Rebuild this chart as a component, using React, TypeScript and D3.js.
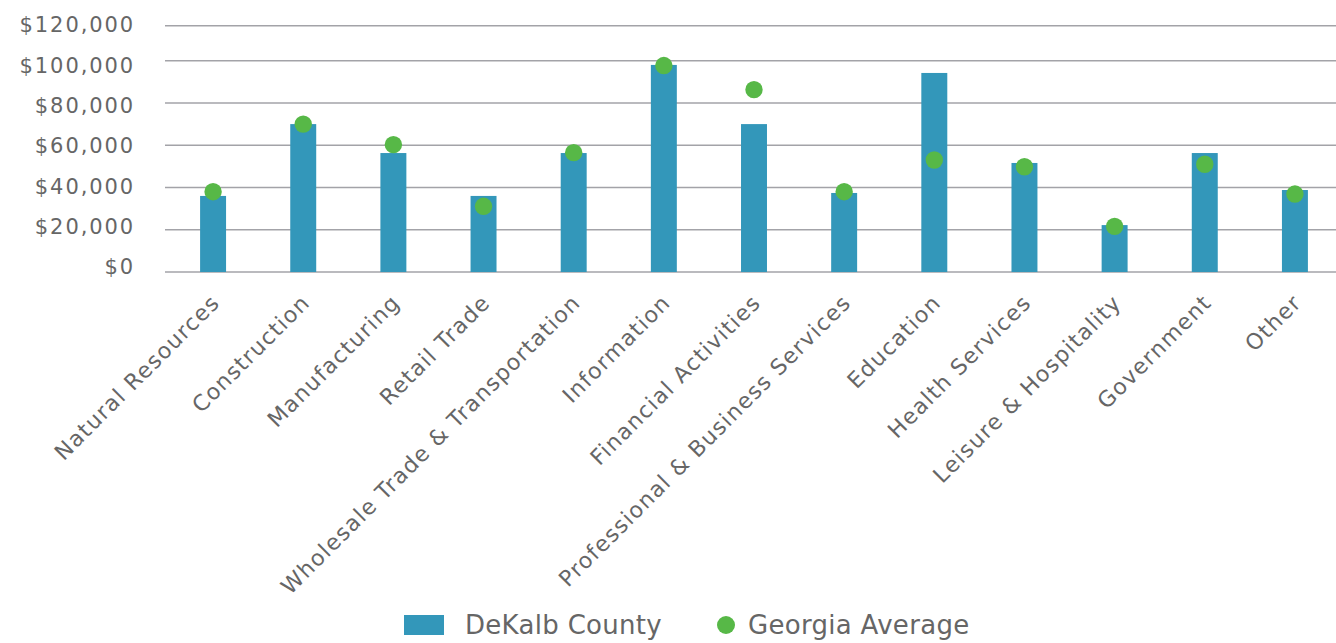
import React from "react";
import * as d3 from "d3";

const categories = [
  "Natural Resources",
  "Construction",
  "Manufacturing",
  "Retail Trade",
  "Wholesale Trade & Transportation",
  "Information",
  "Financial Activities",
  "Professional & Business Services",
  "Education",
  "Health Services",
  "Leisure & Hospitality",
  "Government",
  "Other",
];
const dekalbCounty = [36000, 70000, 56300, 36000, 56300, 98000, 70000, 37400, 94200, 51600, 22200, 56300, 38800];
const georgiaAverage = [38000, 70000, 60300, 31100, 56500, 97700, 86300, 38000, 53000, 49800, 21600, 51000, 36900];
const yTicks = [0, 20000, 40000, 60000, 80000, 100000, 120000];
const seriesNames = ["DeKalb County", "Georgia Average"];

const W = 1336;
const H = 643;
const FONT = "'DejaVu Sans', sans-serif";
const TEXT = "#666666";
const BAR = "#3397BA";
const DOT = "#57B847";

export default function App() {
  const x = d3.scaleBand<string>().domain(categories).range([168, 1340]).paddingInner(0.712).paddingOuter(0.356);
  // gridline scale as drawn in the reference
  const y = d3.scaleLinear().domain([0, 100000, 120000]).range([272, 60.7, 25.7]);
  // tick label positions
  const yl = d3.scaleLinear().domain([0, 120000]).range([267, 25]);
  const fmt = (v: number) => "$" + d3.format(",")(v);
  const bw = x.bandwidth();

  return (
    <svg width={W} height={H} style={{ position: "absolute", left: 0, top: 0, background: "#fff" }}>
      <g>
        {yTicks.map((t) => (
          <g key={t}>
            <line x1={165} x2={W} y1={y(t)} y2={y(t)} stroke="#a3a3a8" strokeWidth={1.6} />
            <text
              x={135}
              y={yl(t)}
              dy="0.35em"
              textAnchor="end"
              fontFamily={FONT}
              fontSize={21}
              letterSpacing={1.9}
              fill={TEXT}
            >
              {fmt(t)}
            </text>
          </g>
        ))}
      </g>
      <g>
        {categories.map((c, i) => (
          <rect key={c} x={x(c)!} y={y(dekalbCounty[i])} width={bw} height={y(0) - y(dekalbCounty[i])} fill={BAR} />
        ))}
      </g>
      <g>
        {categories.map((c, i) => (
          <circle key={c} cx={x(c)! + bw / 2} cy={y(georgiaAverage[i])} r={8.7} fill={DOT} />
        ))}
      </g>
      <g>
        {categories.map((c) => {
          const cx = x(c)! + bw / 2;
          return (
            <text
              key={c}
              transform={`translate(${cx + 8},${304}) rotate(-45)`}
              textAnchor="end"
              fontFamily={FONT}
              fontSize={22}
              letterSpacing={1.3}
              fill={TEXT}
            >
              {c}
            </text>
          );
        })}
      </g>
      <g>
        <rect x={404} y={615} width={40} height={20} fill={BAR} />
        <text x={465} y={634} fontFamily={FONT} fontSize={26} letterSpacing={0.3} fill={TEXT}>
          {seriesNames[0]}
        </text>
        <circle cx={726} cy={625} r={9} fill={DOT} />
        <text x={748} y={634} fontFamily={FONT} fontSize={26} letterSpacing={0.3} fill={TEXT}>
          {seriesNames[1]}
        </text>
      </g>
    </svg>
  );
}
